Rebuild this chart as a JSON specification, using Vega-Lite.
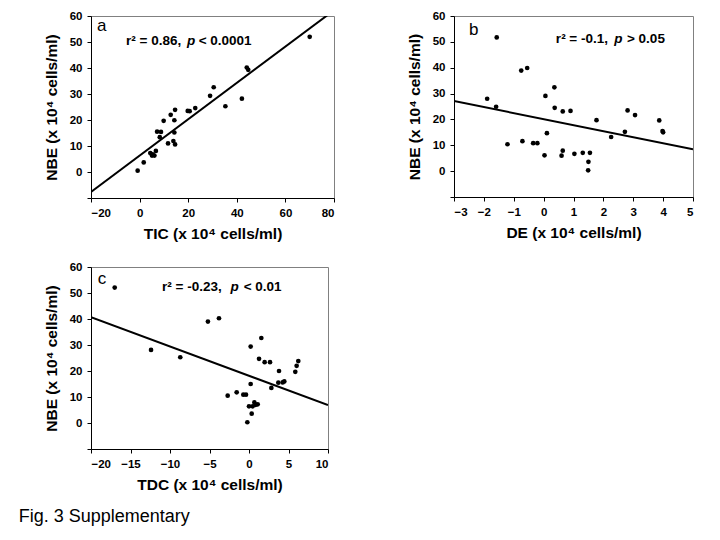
{
  "$schema": "https://vega.github.io/schema/vega-lite/v6.json",
  "padding": {"left": 18, "top": 9, "right": 5, "bottom": 5},
  "background": "white",
  "config": {
    "font": "Liberation Sans",
    "view": {"stroke": "#808080", "strokeWidth": 1},
    "axis": {
      "grid": false,
      "domainColor": "black",
      "tickColor": "black",
      "tickSize": 4,
      "tickCount": 30,
      "labelOverlap": false,
      "labelFont": "Liberation Sans",
      "labelFontWeight": "bold",
      "labelFontSize": 11.5,
      "labelColor": "black",
      "titleFont": "Liberation Sans",
      "titleFontWeight": "bold",
      "titleFontSize": 15.5,
      "titleColor": "black"
    },
    "axisX": {"labelPadding": 5, "titlePadding": 8},
    "axisY": {"labelPadding": 5, "titlePadding": 10}
  },
  "datasets": {
    "a_pts": [
      {"x": -0.8, "y": 0.5}, {"x": 1.7, "y": 3.7}, {"x": 4.4, "y": 7.3}, {"x": 5.1, "y": 6.3},
      {"x": 6.1, "y": 6.3}, {"x": 6.7, "y": 8.1}, {"x": 5.4, "y": 6.8}, {"x": 7.2, "y": 15.5},
      {"x": 8.8, "y": 15.4}, {"x": 8.3, "y": 13.4}, {"x": 9.9, "y": 19.7}, {"x": 11.7, "y": 11.0},
      {"x": 12.8, "y": 22.0}, {"x": 14.3, "y": 19.9}, {"x": 14.6, "y": 23.9}, {"x": 14.3, "y": 15.2},
      {"x": 13.9, "y": 11.9}, {"x": 14.6, "y": 10.6}, {"x": 19.8, "y": 23.5}, {"x": 20.6, "y": 23.4},
      {"x": 22.9, "y": 24.6}, {"x": 29.0, "y": 29.3}, {"x": 30.5, "y": 32.6}, {"x": 35.3, "y": 25.3},
      {"x": 42.1, "y": 28.2}, {"x": 44.1, "y": 40.2}, {"x": 44.7, "y": 39.3}, {"x": 70.0, "y": 52.0}
    ],
    "a_line": [{"x": -20, "y": -7.7}, {"x": 80, "y": 62.2}],
    "a_txt": [
      {"x": -17.5, "y": 54.3, "t": "a", "k": "letter"},
      {"x": -5.6, "y": 49.0, "t": "r² = 0.86,", "k": "bold"},
      {"x": 19.5, "y": 49.0, "t": "p", "k": "italic"},
      {"x": 24.3, "y": 49.0, "t": "< 0.0001", "k": "bold"}
    ],
    "b_pts": [
      {"x": -1.89, "y": 28.0}, {"x": -1.57, "y": 51.7}, {"x": -1.59, "y": 24.9}, {"x": -1.21, "y": 10.4},
      {"x": -0.75, "y": 38.9}, {"x": -0.55, "y": 39.9}, {"x": -0.71, "y": 11.6}, {"x": -0.35, "y": 10.8},
      {"x": -0.21, "y": 10.8}, {"x": 0.06, "y": 29.1}, {"x": 0.11, "y": 14.7}, {"x": 0.03, "y": 6.1},
      {"x": 0.36, "y": 32.4}, {"x": 0.37, "y": 24.5}, {"x": 0.64, "y": 23.1}, {"x": 0.90, "y": 23.3},
      {"x": 0.60, "y": 6.0}, {"x": 0.64, "y": 7.9}, {"x": 1.03, "y": 6.7}, {"x": 1.31, "y": 7.1},
      {"x": 1.55, "y": 7.1}, {"x": 1.50, "y": 3.6}, {"x": 1.49, "y": 0.3}, {"x": 1.77, "y": 19.7},
      {"x": 2.26, "y": 13.2}, {"x": 2.72, "y": 15.2}, {"x": 2.81, "y": 23.5}, {"x": 3.06, "y": 21.7},
      {"x": 3.87, "y": 19.6}, {"x": 3.98, "y": 15.5}, {"x": 4.0, "y": 15.0}
    ],
    "b_line": [{"x": -3, "y": 27.1}, {"x": 5, "y": 8.5}],
    "b_txt": [
      {"x": -2.5, "y": 52.7, "t": "b", "k": "letter"},
      {"x": 0.41, "y": 49.6, "t": "r² = -0.1,", "k": "bold"},
      {"x": 2.36, "y": 49.6, "t": "p", "k": "italic"},
      {"x": 2.79, "y": 49.6, "t": "> 0.05", "k": "bold"}
    ],
    "c_pts": [
      {"x": -17.0, "y": 52.1}, {"x": -12.4, "y": 28.1}, {"x": -8.7, "y": 25.3}, {"x": -5.2, "y": 39.0},
      {"x": -3.8, "y": 40.3}, {"x": -2.7, "y": 10.5}, {"x": -1.56, "y": 11.8}, {"x": -0.72, "y": 10.9},
      {"x": -0.38, "y": 10.9}, {"x": -0.21, "y": 0.3}, {"x": 0.21, "y": 29.4}, {"x": 0.21, "y": 15.0},
      {"x": 0.0, "y": 6.4}, {"x": 0.34, "y": 3.6}, {"x": 0.46, "y": 6.4}, {"x": 0.68, "y": 7.9},
      {"x": 0.84, "y": 7.0}, {"x": 1.1, "y": 7.2}, {"x": 1.27, "y": 24.7}, {"x": 1.56, "y": 32.7},
      {"x": 1.98, "y": 23.4}, {"x": 2.66, "y": 23.4}, {"x": 2.83, "y": 13.5}, {"x": 3.8, "y": 20.0},
      {"x": 3.71, "y": 15.5}, {"x": 4.26, "y": 15.6}, {"x": 4.47, "y": 16.0}, {"x": 5.86, "y": 19.7},
      {"x": 6.03, "y": 22.0}, {"x": 6.24, "y": 23.8}
    ],
    "c_line": [{"x": -20, "y": 40.7}, {"x": 10, "y": 6.9}],
    "c_txt": [
      {"x": -19.15, "y": 53.4, "t": "c", "k": "letter"},
      {"x": -11.0, "y": 50.8, "t": "r² = -0.23,", "k": "bold"},
      {"x": -2.35, "y": 50.8, "t": "p", "k": "italic"},
      {"x": -0.67, "y": 50.8, "t": "< 0.01", "k": "bold"}
    ]
  },
  "title": {
    "text": "Fig. 3 Supplementary",
    "orient": "bottom",
    "anchor": "start",
    "frame": "bounds",
    "fontSize": 18,
    "fontWeight": "normal",
    "font": "Liberation Sans",
    "color": "black",
    "offset": 14,
    "dx": -25
  },
  "columns": 2,
  "bounds": "flush",
  "spacing": {"row": 69, "column": 120},
  "concat": [
    {
      "width": 243, "height": 182,
      "layer": [
        {
          "data": {"name": "a_line"},
          "mark": {"type": "line", "color": "black", "strokeWidth": 2, "clip": true},
          "encoding": {
            "x": {"field": "x", "type": "quantitative", "scale": {"domain": [-20, 80], "nice": false, "zero": false},
                  "axis": {"values": [-20, 0, 20, 40, 60, 80], "format": "d", "tickCount": 30, "labelOverlap": false, "title": "TIC (x 10⁴ cells/ml)"}},
            "y": {"field": "y", "type": "quantitative", "scale": {"domain": [-10, 60], "nice": false, "zero": false},
                  "axis": {"values": [-10, 0, 10, 20, 30, 40, 50, 60], "format": "d", "tickCount": 30, "labelOverlap": false, "labelExpr": "datum.value < 0 ? '' : datum.label", "title": "NBE (x 10⁴ cells/ml)"}}
          }
        },
        {
          "data": {"name": "a_pts"},
          "mark": {"type": "circle", "color": "black", "size": 22, "opacity": 1},
          "encoding": {"x": {"field": "x", "type": "quantitative"}, "y": {"field": "y", "type": "quantitative"}}
        },
        {
          "data": {"name": "a_txt"},
          "transform": [{"filter": "datum.k == 'letter'"}],
          "mark": {"type": "text", "align": "left", "baseline": "alphabetic", "fontSize": 17, "color": "black"},
          "encoding": {"x": {"field": "x", "type": "quantitative"}, "y": {"field": "y", "type": "quantitative"}, "text": {"field": "t"}}
        },
        {
          "data": {"name": "a_txt"},
          "transform": [{"filter": "datum.k == 'bold'"}],
          "mark": {"type": "text", "align": "left", "baseline": "alphabetic", "fontSize": 13.5, "fontWeight": "bold", "color": "black"},
          "encoding": {"x": {"field": "x", "type": "quantitative"}, "y": {"field": "y", "type": "quantitative"}, "text": {"field": "t"}}
        },
        {
          "data": {"name": "a_txt"},
          "transform": [{"filter": "datum.k == 'italic'"}],
          "mark": {"type": "text", "align": "left", "baseline": "alphabetic", "fontSize": 13.5, "fontWeight": "bold", "fontStyle": "italic", "color": "black"},
          "encoding": {"x": {"field": "x", "type": "quantitative"}, "y": {"field": "y", "type": "quantitative"}, "text": {"field": "t"}}
        }
      ]
    },
    {
      "width": 239, "height": 181,
      "layer": [
        {
          "data": {"name": "b_line"},
          "mark": {"type": "line", "color": "black", "strokeWidth": 2, "clip": true},
          "encoding": {
            "x": {"field": "x", "type": "quantitative", "scale": {"domain": [-3, 5], "nice": false, "zero": false},
                  "axis": {"values": [-3, -2, -1, 0, 1, 2, 3, 4, 5], "format": "d", "tickCount": 30, "labelOverlap": false, "title": "DE (x 10⁴ cells/ml)"}},
            "y": {"field": "y", "type": "quantitative", "scale": {"domain": [-10, 60], "nice": false, "zero": false},
                  "axis": {"values": [-10, 0, 10, 20, 30, 40, 50, 60], "format": "d", "tickCount": 30, "labelOverlap": false, "labelExpr": "datum.value < 0 ? '' : datum.label", "title": "NBE (x 10⁴ cells/ml)"}}
          }
        },
        {
          "data": {"name": "b_pts"},
          "mark": {"type": "circle", "color": "black", "size": 22, "opacity": 1},
          "encoding": {"x": {"field": "x", "type": "quantitative"}, "y": {"field": "y", "type": "quantitative"}}
        },
        {
          "data": {"name": "b_txt"},
          "transform": [{"filter": "datum.k == 'letter'"}],
          "mark": {"type": "text", "align": "left", "baseline": "alphabetic", "fontSize": 17, "color": "black"},
          "encoding": {"x": {"field": "x", "type": "quantitative"}, "y": {"field": "y", "type": "quantitative"}, "text": {"field": "t"}}
        },
        {
          "data": {"name": "b_txt"},
          "transform": [{"filter": "datum.k == 'bold'"}],
          "mark": {"type": "text", "align": "left", "baseline": "alphabetic", "fontSize": 13.5, "fontWeight": "bold", "color": "black"},
          "encoding": {"x": {"field": "x", "type": "quantitative"}, "y": {"field": "y", "type": "quantitative"}, "text": {"field": "t"}}
        },
        {
          "data": {"name": "b_txt"},
          "transform": [{"filter": "datum.k == 'italic'"}],
          "mark": {"type": "text", "align": "left", "baseline": "alphabetic", "fontSize": 13.5, "fontWeight": "bold", "fontStyle": "italic", "color": "black"},
          "encoding": {"x": {"field": "x", "type": "quantitative"}, "y": {"field": "y", "type": "quantitative"}, "text": {"field": "t"}}
        }
      ]
    },
    {
      "width": 237, "height": 182,
      "layer": [
        {
          "data": {"name": "c_line"},
          "mark": {"type": "line", "color": "black", "strokeWidth": 2, "clip": true},
          "encoding": {
            "x": {"field": "x", "type": "quantitative", "scale": {"domain": [-20, 10], "nice": false, "zero": false},
                  "axis": {"values": [-20, -15, -10, -5, 0, 5, 10], "format": "d", "tickCount": 30, "labelOverlap": false, "title": "TDC (x 10⁴ cells/ml)"}},
            "y": {"field": "y", "type": "quantitative", "scale": {"domain": [-10, 60], "nice": false, "zero": false},
                  "axis": {"values": [-10, 0, 10, 20, 30, 40, 50, 60], "format": "d", "tickCount": 30, "labelOverlap": false, "labelExpr": "datum.value < 0 ? '' : datum.label", "title": "NBE (x 10⁴ cells/ml)"}}
          }
        },
        {
          "data": {"name": "c_pts"},
          "mark": {"type": "circle", "color": "black", "size": 22, "opacity": 1},
          "encoding": {"x": {"field": "x", "type": "quantitative"}, "y": {"field": "y", "type": "quantitative"}}
        },
        {
          "data": {"name": "c_txt"},
          "transform": [{"filter": "datum.k == 'letter'"}],
          "mark": {"type": "text", "align": "left", "baseline": "alphabetic", "fontSize": 17, "color": "black"},
          "encoding": {"x": {"field": "x", "type": "quantitative"}, "y": {"field": "y", "type": "quantitative"}, "text": {"field": "t"}}
        },
        {
          "data": {"name": "c_txt"},
          "transform": [{"filter": "datum.k == 'bold'"}],
          "mark": {"type": "text", "align": "left", "baseline": "alphabetic", "fontSize": 13.5, "fontWeight": "bold", "color": "black"},
          "encoding": {"x": {"field": "x", "type": "quantitative"}, "y": {"field": "y", "type": "quantitative"}, "text": {"field": "t"}}
        },
        {
          "data": {"name": "c_txt"},
          "transform": [{"filter": "datum.k == 'italic'"}],
          "mark": {"type": "text", "align": "left", "baseline": "alphabetic", "fontSize": 13.5, "fontWeight": "bold", "fontStyle": "italic", "color": "black"},
          "encoding": {"x": {"field": "x", "type": "quantitative"}, "y": {"field": "y", "type": "quantitative"}, "text": {"field": "t"}}
        }
      ]
    }
  ]
}
